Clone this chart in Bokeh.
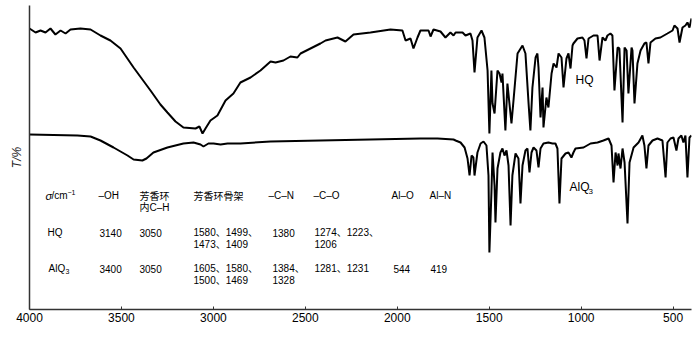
from bokeh.plotting import figure
from bokeh.models import Range1d, FixedTicker, Label
from bokeh.embed import file_html
from bokeh.resources import INLINE

# ---------------- data (wavenumber cm^-1, transmittance in arbitrary units) -------------
hq_wn = [4000, 3967, 3940, 3913, 3886, 3859, 3831, 3804, 3777, 3723, 3668, 3614, 3560, 3505,
         3434, 3342, 3288, 3250, 3206, 3163, 3097, 3076, 3059, 3043, 3016, 2978, 2934, 2891,
         2853, 2798, 2744, 2689, 2662, 2619, 2581, 2543, 2526, 2472, 2418, 2390, 2347, 2325,
         2282, 2238, 2146, 2037, 1972, 1955, 1928, 1912, 1890, 1874, 1830, 1819, 1803, 1765,
         1738, 1711, 1694, 1683, 1645, 1629, 1602, 1591, 1580, 1564, 1542, 1526, 1509, 1499,
         1488, 1482, 1471, 1455, 1444, 1433, 1428, 1412, 1401, 1390, 1379, 1368, 1346, 1319,
         1303, 1286, 1276, 1265, 1248, 1238, 1232, 1221, 1210, 1205, 1189, 1178, 1161, 1150,
         1134, 1123, 1107, 1096, 1080, 1069, 1058, 1047, 1042, 1020, 993, 982, 971, 960, 933,
         911, 900, 884, 868, 857, 841, 830, 819, 802, 792, 775, 764, 753, 743, 726, 721, 710,
         694, 677, 656, 645, 634, 623, 596, 569, 531, 503, 493, 476, 465, 449, 433, 422, 411,
         400]
hq_t = [281, 277, 279, 277, 281, 275, 279, 276, 280, 281, 280, 274, 269, 261,
        242, 219, 205, 197, 188, 182, 181, 183, 176, 181, 189, 194, 209, 216,
        227, 232, 239, 248, 247, 249, 253, 252, 256, 261, 266, 269, 271, 272,
        268, 275, 277, 280, 279, 269, 271, 261, 272, 279, 279, 273, 280, 278,
        272, 277, 274, 277, 277, 274, 276, 269, 237, 272, 279, 272, 239, 176,
        239, 206, 196, 239, 236, 227, 236, 179, 226, 206, 186, 209, 256, 264,
        256, 206, 179, 222, 252, 256, 242, 192, 222, 182, 212, 202, 236, 246,
        242, 256, 252, 222, 251, 256, 241, 264, 266, 271, 272, 269, 251, 271, 274,
        274, 249, 272, 269, 274, 276, 274, 219, 262, 261, 187, 262, 259, 216, 262, 259, 206,
        246, 259, 266, 267, 246, 267, 271, 272, 276, 279, 284, 281, 267, 282, 284, 287, 282,
        291]

alq_wn = [4000, 3739, 3668, 3614, 3543, 3467, 3434, 3386, 3364, 3326, 3250, 3163, 3108, 3070,
          3054, 3027, 2999, 2961, 2923, 2853, 2689, 2418, 2146, 1874, 1781, 1694, 1683, 1656,
          1634, 1618, 1607, 1596, 1586, 1580, 1564, 1547, 1531, 1515, 1504, 1499, 1488, 1482,
          1471, 1466, 1455, 1439, 1428, 1417, 1406, 1395, 1384, 1374, 1357, 1341, 1330, 1319,
          1303, 1292, 1281, 1270, 1259, 1243, 1232, 1221, 1205, 1178, 1156, 1140, 1129, 1118,
          1107, 1085, 1069, 1053, 1042, 1031, 987, 949, 911, 879, 851, 835, 824, 813, 802, 797,
          786, 775, 764, 748, 737, 715, 688, 667, 656, 645, 634, 612, 585, 558, 541, 531, 514,
          498, 482, 471, 455, 444, 433, 422, 411, 400]
alq_t = [175, 174, 173, 169, 162, 154, 150, 149, 151, 157, 162, 166, 167, 165,
         163, 166, 166, 165, 166, 166, 168, 169, 170, 171, 171, 170, 169, 167,
         162, 151, 134, 154, 152, 134, 157, 166, 168, 164, 134, 57, 117, 157,
         124, 87, 141, 157, 161, 154, 159, 144, 84, 134, 156, 151, 106, 144,
         159, 161, 137, 157, 162, 159, 142, 161, 166, 167, 166, 166, 161, 106,
         151, 156, 157, 152, 157, 161, 162, 166, 167, 169, 171, 164, 127, 157, 144, 156,
         141, 161, 147, 86, 147, 162, 167, 174, 164, 141, 164, 169, 171, 169, 132, 167, 171,
         172, 159, 171, 174, 167, 174, 132, 172, 174]

x_ticks = [4000, 3500, 3000, 2500, 2000, 1500, 1000, 500]

# table of band assignments
header = ["–OH", "芳香环", "芳香环骨架", "–C–N", "–C–O", "Al–O", "Al–N"]
header_line2 = ["", "内C–H", "", "", "", "", ""]
hq_row = [["3140"], ["3050"], ["1580、1499、", "1473、1409"], ["1380"], ["1274、1223、", "1206"], [""], [""]]
alq_row = [["3400"], ["3050"], ["1605、1580、", "1500、1469"], ["1384、", "1328"], ["1281、1231"], ["544"], ["419"]]

# ---------------- layout helpers ----------------
L, R, T, B = 29, 691, 5, 309


def dx(px):
    return 4000 - (px - L) * 3600.0 / (R - L)


def dy(py):
    return B - py


p = figure(width=700, height=351, output_backend="svg", toolbar_location=None,
           x_range=Range1d(4000, 400), y_range=Range1d(0, 304),
           min_border_left=L, min_border_right=700 - R, min_border_top=T,
           min_border_bottom=351 - B, background_fill_color="white",
           border_fill_color="white")
p.outline_line_color = None
p.grid.visible = False

p.line(hq_wn, hq_t, line_color="black", line_width=2)
p.line(alq_wn, alq_t, line_color="black", line_width=2)

# axes
p.xaxis.ticker = FixedTicker(ticks=x_ticks)
p.xaxis.major_tick_in = 3
p.xaxis.major_tick_out = 0
p.xaxis.minor_tick_line_color = None
p.xaxis.axis_line_color = "#333333"
p.xaxis.axis_line_width = 1.5
p.xaxis.major_tick_line_color = "#333333"
p.xaxis.major_label_text_font = "Liberation Sans"
p.xaxis.major_label_text_font_size = "12px"
p.xaxis.major_label_text_color = "black"
p.xaxis.major_label_standoff = 3

p.yaxis.ticker = FixedTicker(ticks=[])
p.yaxis.major_label_text_font_size = "0px"
p.yaxis.major_label_standoff = 0
p.yaxis.major_tick_out = 0
p.yaxis.major_tick_in = 0
p.yaxis.major_tick_line_color = None
p.yaxis.minor_tick_line_color = None
p.yaxis.axis_line_color = "#333333"
p.yaxis.axis_line_width = 1.5
p.yaxis.axis_label = "T/%"
p.yaxis.axis_label_text_font = "Liberation Sans"
p.yaxis.axis_label_text_font_style = "italic"
p.yaxis.axis_label_text_font_size = "12px"
p.yaxis.axis_label_text_color = "#222222"
p.yaxis.axis_label_standoff = 6

LAT = "Liberation Sans"
MIX = "Liberation Sans, Noto Sans CJK SC"
CJK = "Noto Sans CJK SC"


def lab(px, py, text, size="10px", font=MIX, style="normal", align="left"):
    p.add_layout(Label(x=dx(px), y=dy(py), text=text, text_font=font,
                       text_font_size=size, text_font_style=style, text_color="black",
                       text_baseline="middle", text_align=align))


# curve labels
lab(575, 79, "HQ", size="12px", font=LAT)
lab(569, 186, "AlQ", size="12px", font=LAT)
lab(588, 191, "3", size="8px", font=LAT)

# x axis title
lab(335, 333, "σ", size="12px", font=LAT, style="italic")
lab(342, 333, "/cm", size="12px", font=LAT)
lab(360, 329, "−1", size="8px", font=LAT)

# table header
col_x = [98, 139, 193, 268, 313, 391, 429]
num_x = [99, 139, 193, 272, 314, 393, 430]
lab(45, 195, "σ", size="11px", font=LAT, style="italic")
lab(51, 195, "/cm", size="10px", font=LAT)
lab(67, 192, "−1", size="7px", font=LAT)
for cx, h1, h2 in zip(col_x, header, header_line2):
    lab(cx, 195, h1, font=(CJK if h1.startswith("芳") else MIX))
    if h2:
        lab(cx, 207, h2)

lab(47, 232, "HQ")
lab(48, 268, "AlQ")
lab(65, 271, "3", size="7px", font=LAT)
for cx, cell_hq, cell_alq in zip(num_x, hq_row, alq_row):
    for k, t in enumerate(cell_hq):
        if t:
            lab(cx, 232 + 11.5 * k, t)
    for k, t in enumerate(cell_alq):
        if t:
            lab(cx, 268 + 11.5 * k, t)

open("out.html", "w").write(file_html(p, INLINE))
